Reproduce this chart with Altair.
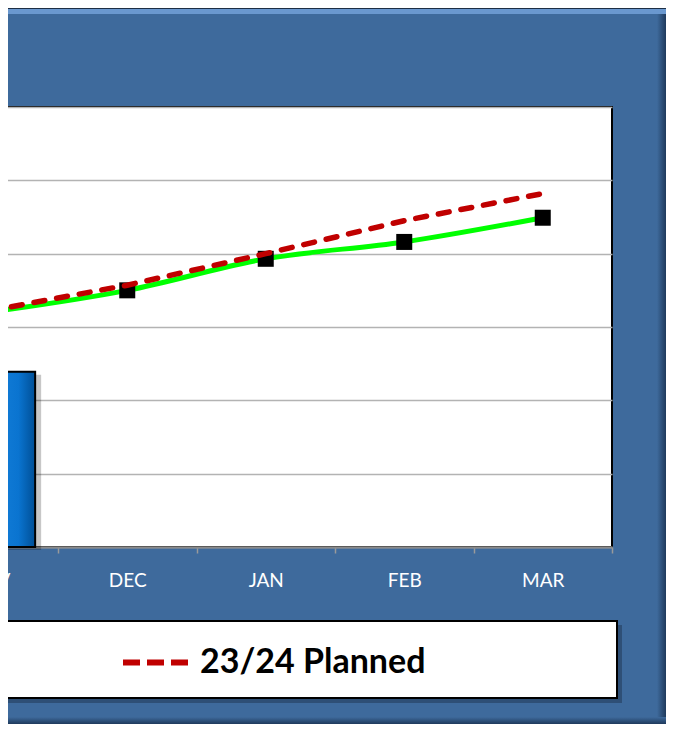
import altair as alt
import pandas as pd

months = ["NOV", "DEC", "JAN", "FEB", "MAR"]
bar_months = ["NOV"]
bar_values = [239]
actual_values = [320, 350, 393, 416, 449]
planned_values = [322, 357, 400, 445, 482]
planned_name = "23/24 Planned"
y_ticks = [0, 100, 200, 300, 400, 500, 600]

bars = pd.DataFrame({"month": bar_months, "value": bar_values})
actual = pd.DataFrame({"month": months, "value": actual_values})
planned = pd.DataFrame({"month": months, "value": planned_values, "series": [planned_name] * len(months)})

W, H = 634, 440
xscale = alt.Scale(domain=months, range=[-58.5, W], paddingInner=0, paddingOuter=0)
yscale = alt.Scale(domain=[0, 600], nice=False)

xenc = alt.X("month:N", scale=xscale, sort=months, title=None,
             axis=alt.Axis(labelAngle=0, labelColor="white", labelFont="Lato", labelFontSize=19,
                           labelPadding=18, tickBand="extent", ticks=True, tickSize=6,
                           tickColor="#9a9a9a", tickWidth=1.5, domainColor="#8a8a8a",
                           domainWidth=2, grid=False))
yenc = alt.Y("value:Q", scale=yscale, title=None,
             axis=alt.Axis(values=y_ticks, labels=False, ticks=False, domain=False,
                           grid=True, gridColor="#b3b3b3", gridWidth=1.5))

deco = pd.DataFrame({"k": [0]})

# frame bevels and legend box (decoration)
top_strip = alt.Chart(deco).mark_rect(color="#6a98cf").encode(
    x=alt.value(0), x2=alt.value(720), y=alt.value(-98), y2=alt.value(-93))
top_line = alt.Chart(deco).mark_rect(color="#1d2f45").encode(
    x=alt.value(0), x2=alt.value(720), y=alt.value(-99), y2=alt.value(-98))
right_strip = alt.Chart(deco).mark_rect(
    color={"gradient": "linear", "x1": 0, "x2": 1, "y1": 0, "y2": 0,
           "stops": [{"offset": 0, "color": "#3e6a9c"}, {"offset": 1, "color": "#1f3a5c"}]}
).encode(x=alt.value(679), x2=alt.value(688), y=alt.value(-93), y2=alt.value(617))
bottom_strip = alt.Chart(deco).mark_rect(
    color={"gradient": "linear", "x1": 0, "x2": 0, "y1": 0, "y2": 1,
           "stops": [{"offset": 0, "color": "#3e6a9c"}, {"offset": 1, "color": "#1f3a5c"}]}
).encode(x=alt.value(0), x2=alt.value(688), y=alt.value(610), y2=alt.value(617))

legend_shadow = alt.Chart(deco).mark_rect(color="#1a2f4a", opacity=0.45).encode(
    x=alt.value(0), x2=alt.value(644), y=alt.value(518), y2=alt.value(596))
legend_box = alt.Chart(deco).mark_rect(fill="white", stroke="black", strokeWidth=2).encode(
    x=alt.value(0), x2=alt.value(639), y=alt.value(514), y2=alt.value(591))

bar_shadow = alt.Chart(bars).mark_bar(width=alt.RelativeBandSize(0.67), color="black",
                                      opacity=0.22, xOffset=6, yOffset=3).encode(x=xenc, y=yenc)
bar = alt.Chart(bars).mark_bar(
    width=alt.RelativeBandSize(0.67), stroke="black", strokeWidth=2,
    color={"gradient": "linear", "x1": 0, "x2": 1, "y1": 0, "y2": 0,
           "stops": [{"offset": 0, "color": "#2a95ec"},
                     {"offset": 0.82, "color": "#0a74d0"},
                     {"offset": 1, "color": "#004f96"}]}
).encode(x=xenc, y=yenc)

green = alt.Chart(actual).mark_line(color="#00ff00", strokeWidth=5, interpolate="monotone").encode(x=xenc, y=yenc)
pts = alt.Chart(actual).mark_point(shape="square", filled=True, color="black", opacity=1, size=256).encode(x=xenc, y=yenc)
red = alt.Chart(planned).mark_line(strokeWidth=5.5, strokeDash=[11, 12], strokeCap="round").encode(
    x=xenc, y=yenc,
    color=alt.Color("series:N", scale=alt.Scale(domain=[planned_name], range=["#c00000"]),
                    legend=alt.Legend(orient="none", legendX=142, legendY=520, title=None,
                                      symbolType="stroke", symbolSize=4225, symbolStrokeWidth=6,
                                      symbolDash=[17, 7], labelFont="Lato", labelFontSize=34,
                                      labelFontWeight="bold", labelColor="black", labelOffset=9,
                                      labelLimit=500, padding=0)))

chart = alt.layer(top_strip, top_line, right_strip, bottom_strip, legend_shadow, legend_box,
                  bar_shadow, bar, green, pts, red).properties(
    width=W, height=H,
    autosize=alt.AutoSizeParams(type="none"),
    padding={"left": -30, "top": 99, "right": 54, "bottom": 177},
    background="#3e6a9c",
).configure_view(fill="white", stroke="black", strokeWidth=2)

chart.save("out.html", embed_options={"renderer": "svg", "actions": False})
